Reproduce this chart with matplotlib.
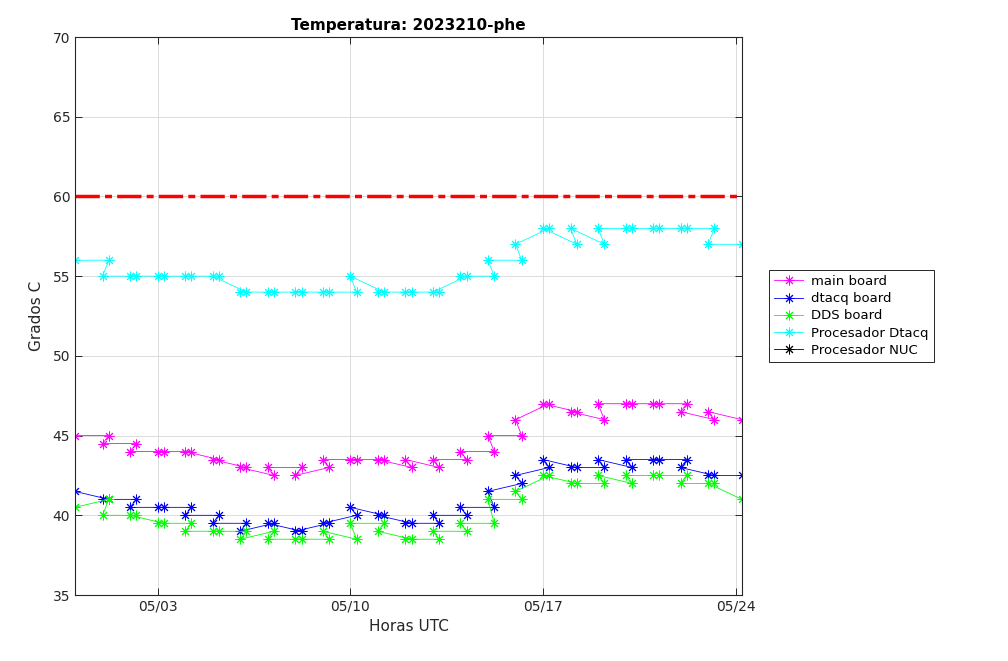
import numpy as np
import pandas as pd
import matplotlib
matplotlib.use("Agg")
import matplotlib.pyplot as plt
import matplotlib.dates as mdates

# sample times: first reading, then each day a late (~05:30) and a 00:00 reading, in logged order
t_first = pd.Timestamp("2023-04-30 00:00")
days = pd.date_range("2023-05-01", "2023-05-23", freq="D")
late_offset = pd.Timedelta(hours=5, minutes=30)
t_last = pd.Timestamp("2023-05-24") + late_offset

# values per day: *_00 at 00:00, *_late at ~05:30
main_00 = [44.5, 44, 44, 44, 43.5, 43, 43, 42.5, 43.5, 43.5, 43.5, 43.5,
           43.5, 44, 45, 46, 47, 46.5, 47, 47, 47, 46.5, 46.5]
main_late = [45, 44.5, 44, 44, 43.5, 43, 42.5, 43, 43, 43.5, 43.5, 43,
             43, 43.5, 44, 45, 47, 46.5, 46, 47, 47, 47, 46]
main_first, main_last = 45, 46

dtacq_00 = [41, 40.5, 40.5, 40, 39.5, 39, 39.5, 39, 39.5, 40.5, 40, 39.5,
            40, 40.5, 41.5, 42.5, 43.5, 43, 43.5, 43.5, 43.5, 43, 42.5]
dtacq_late = [41, 41, 40.5, 40.5, 40, 39.5, 39.5, 39, 39.5, 40, 40, 39.5,
              39.5, 40, 40.5, 42, 43, 43, 43, 43, 43.5, 43.5, 42.5]
dtacq_first, dtacq_last = 41.5, 42.5

dds_00 = [40, 40, 39.5, 39, 39, 38.5, 38.5, 38.5, 39, 39.5, 39, 38.5,
          39, 39.5, 41, 41.5, 42.5, 42, 42.5, 42.5, 42.5, 42, 42]
dds_late = [41, 40, 39.5, 39.5, 39, 39, 39, 38.5, 38.5, 38.5, 39.5, 38.5,
            38.5, 39, 39.5, 41, 42.5, 42, 42, 42, 42.5, 42.5, 42]
dds_first, dds_last = 40.5, 41

proc_00 = [55, 55, 55, 55, 55, 54, 54, 54, 54, 55, 54, 54,
           54, 55, 56, 57, 58, 58, 58, 58, 58, 58, 57]
proc_late = [56, 55, 55, 55, 55, 54, 54, 54, 54, 54, 54, 54,
             54, 55, 55, 56, 58, 57, 57, 58, 58, 58, 58]
proc_first, proc_last = 56, 57

nuc_times = []
nuc_vals = []

limit = 60


def build(first, late, v00, last):
    t = [t_first]
    v = [first]
    for d, a, b in zip(days, late, v00):
        t += [d + late_offset, d]
        v += [a, b]
    t.append(t_last)
    v.append(last)
    return t, v


star = (8, 2, 0)
fig = plt.figure(figsize=(10.08, 6.61), dpi=100)
ax = fig.add_axes([0.0744, 0.0998, 0.6617, 0.8442])

series = [
    ("main board", (1, 0, 1), main_first, main_late, main_00, main_last),
    ("dtacq board", (0, 0, 1), dtacq_first, dtacq_late, dtacq_00, dtacq_last),
    ("DDS board", (0, 1, 0), dds_first, dds_late, dds_00, dds_last),
    ("Procesador Dtacq", (0, 1, 1), proc_first, proc_late, proc_00, proc_last),
]
for name, col, f, la, v0, l in series:
    t, v = build(f, la, v0, l)
    ax.plot(t, v, color=col, lw=0.6, marker=star, ms=7, mew=0.7, label=name)
ax.plot(nuc_times, nuc_vals, color="k", lw=0.6, marker=star, ms=7, mew=0.7,
        label="Procesador NUC")

ax.plot([t_first, t_last], [limit, limit], color=(1, 0, 0), lw=2.5,
        linestyle=(0, (7, 1.5, 2, 1.5)))

ax.set_xlim(t_first, t_last)
ax.set_ylim(35, 70)
ax.set_yticks(np.arange(35, 71, 5))
ax.set_xticks(pd.to_datetime(["2023-05-03", "2023-05-10", "2023-05-17", "2023-05-24"]))
ax.xaxis.set_major_formatter(mdates.DateFormatter("%m/%d"))
ax.tick_params(direction="in", top=True, right=True, labelsize=10,
               colors="#262626", length=5, width=0.7)
for s in ax.spines.values():
    s.set_color("#262626")
    s.set_linewidth(0.8)
ax.grid(True, color="#dcdcdc", lw=0.7)
ax.set_axisbelow(True)

ax.set_title("Temperatura: 2023210-phe", fontsize=11, fontweight="bold", pad=5)
ax.set_xlabel("Horas UTC", fontsize=11, color="#262626", labelpad=4)
ax.set_ylabel("Grados C", fontsize=11, color="#262626", labelpad=6)

leg = ax.legend(loc="center left", bbox_to_anchor=(0.7565, 0.522),
                bbox_transform=fig.transFigure, fontsize=9.5, fancybox=False,
                edgecolor="#262626", framealpha=1, handlelength=2.2,
                borderpad=0.4, labelspacing=0.32, handletextpad=0.6)
leg.get_frame().set_linewidth(0.7)

fig.savefig("out.png", dpi=100)
